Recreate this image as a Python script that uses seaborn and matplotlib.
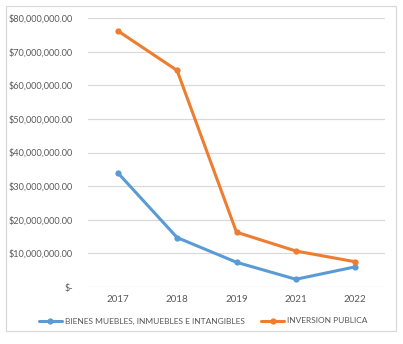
import matplotlib
matplotlib.use("Agg")
import matplotlib.pyplot as plt
import seaborn as sns
import pandas as pd
from matplotlib.patches import Rectangle
from matplotlib.ticker import FuncFormatter

years = ["2017", "2018", "2019", "2021", "2022"]
bienes = [34.0e6, 14.7e6, 7.35e6, 2.3e6, 6.0e6]
inversion = [76.2e6, 64.4e6, 16.3e6, 10.7e6, 7.5e6]
series_names = ["BIENES MUEBLES, INMUEBLES E INTANGIBLES", "INVERSION PUBLICA"]
y_ticks = [0, 10e6, 20e6, 30e6, 40e6, 50e6, 60e6, 70e6, 80e6]

df = pd.DataFrame({
    "year": years * 2,
    "value": bienes + inversion,
    "serie": [series_names[0]] * len(years) + [series_names[1]] * len(years),
})

sns.set_theme(style="white")
plt.rcParams["font.family"] = ["Lato", "DejaVu Sans"]

W, H = 403, 344
fig = plt.figure(figsize=(W / 100, H / 100), dpi=100)
ax = fig.add_axes([88 / W, 1 - 287 / H, (385 - 88) / W, (287 - 18) / H])

palette = {series_names[0]: "#5B9BD5", series_names[1]: "#ED7D31"}
sns.lineplot(data=df, x="year", y="value", hue="serie", palette=palette,
             marker="o", markersize=4.5, markeredgewidth=0, linewidth=2.2,
             sort=False, ax=ax)

ax.set_xlim(-0.5, len(years) - 0.5)
ax.set_ylim(0, 80e6)
ax.set_yticks(y_ticks)

def fmt(v, pos):
    if v == 0:
        return "$-"
    return "${:,.2f}".format(v)

ax.yaxis.set_major_formatter(FuncFormatter(fmt))
ax.grid(axis="y", color="#D9D9D9", linewidth=0.9)
ax.set_axisbelow(True)
for s in ax.spines.values():
    s.set_visible(False)
ax.tick_params(axis="x", length=0, labelsize=7, labelcolor="#595959", pad=6)
ax.tick_params(axis="y", length=0, labelsize=6.6, labelcolor="#595959", pad=11)
ax.set_xlabel("")
ax.set_ylabel("")

handles, labels = ax.get_legend_handles_labels()
ax.legend(handles, labels, loc="center", bbox_to_anchor=(203 / W, 1 - 321 / H),
          bbox_transform=fig.transFigure, ncol=2, frameon=False, fontsize=6,
          labelcolor="#595959", handlelength=2.8, columnspacing=2.0, handletextpad=0.3)

fig.patches.append(Rectangle((6 / W, 1 - 331 / H), (396 - 6) / W, (331 - 6) / H,
                             transform=fig.transFigure, fill=False,
                             edgecolor="#D9D9D9", linewidth=0.9))

fig.savefig("out.png", dpi=100, facecolor="white")
